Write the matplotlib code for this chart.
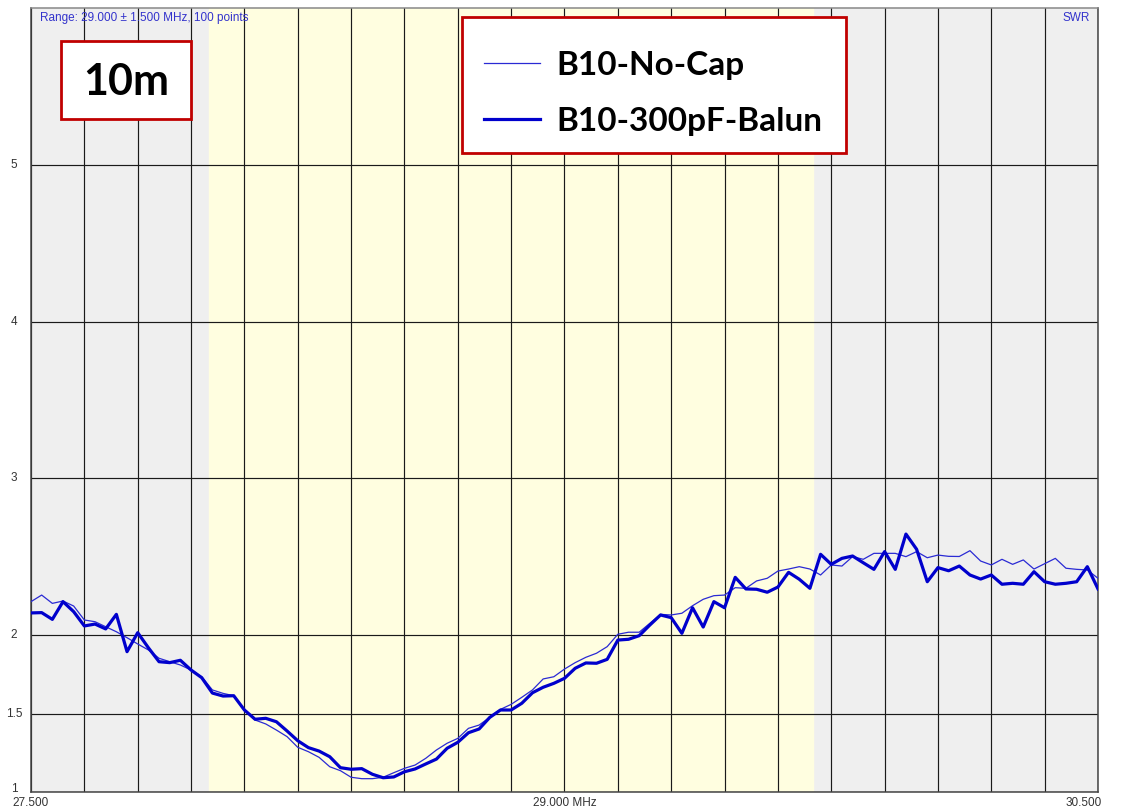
import matplotlib
matplotlib.use("Agg")
import matplotlib.pyplot as plt
from matplotlib.patches import Rectangle
import numpy as np

# sweep: 29.000 +/- 1.500 MHz, 100 steps
f_start, f_stop, n_points = 27.5, 30.5, 101
freq = np.linspace(f_start, f_stop, n_points)

swr_no_cap = [
    2.214, 2.256, 2.203, 2.218, 2.186, 2.097, 2.086, 2.054, 2.022, 1.984,
    1.944, 1.906, 1.853, 1.831, 1.810, 1.778, 1.735, 1.651, 1.629, 1.614,
    1.523, 1.459, 1.434, 1.395, 1.353, 1.285, 1.257, 1.221, 1.161, 1.136,
    1.094, 1.085, 1.085, 1.094, 1.123, 1.151, 1.172, 1.215, 1.268, 1.311,
    1.342, 1.406, 1.427, 1.476, 1.527, 1.559, 1.604, 1.651, 1.721, 1.735,
    1.784, 1.825, 1.859, 1.885, 1.927, 2.006, 2.019, 2.019, 2.076, 2.133,
    2.129, 2.140, 2.188, 2.229, 2.252, 2.256, 2.303, 2.299, 2.346, 2.363,
    2.409, 2.422, 2.437, 2.422, 2.384, 2.448, 2.441, 2.501, 2.484, 2.522,
    2.522, 2.522, 2.501, 2.533, 2.494, 2.511, 2.503, 2.502, 2.539, 2.473,
    2.448, 2.484, 2.452, 2.480, 2.422, 2.456, 2.490, 2.427, 2.420, 2.416,
    2.363,
]

swr_300pf = [
    2.142, 2.144, 2.101, 2.214, 2.150, 2.059, 2.071, 2.040, 2.133, 1.895,
    2.016, 1.920, 1.831, 1.825, 1.840, 1.778, 1.729, 1.631, 1.612, 1.614,
    1.523, 1.464, 1.470, 1.448, 1.389, 1.327, 1.283, 1.261, 1.225, 1.155,
    1.145, 1.149, 1.113, 1.091, 1.096, 1.129, 1.147, 1.179, 1.210, 1.279,
    1.317, 1.378, 1.402, 1.476, 1.523, 1.523, 1.566, 1.633, 1.668, 1.693,
    1.725, 1.789, 1.823, 1.821, 1.846, 1.969, 1.974, 1.997, 2.065, 2.129,
    2.112, 2.012, 2.175, 2.052, 2.214, 2.175, 2.369, 2.295, 2.293, 2.274,
    2.307, 2.401, 2.357, 2.299, 2.516, 2.452, 2.490, 2.505, 2.462, 2.420,
    2.533, 2.420, 2.645, 2.548, 2.341, 2.431, 2.411, 2.441, 2.384, 2.358,
    2.384, 2.325, 2.331, 2.325, 2.405, 2.341, 2.325, 2.331, 2.341, 2.437,
    2.295,
]

band_lo, band_hi = 28.0, 29.7
y_ticks = [1, 1.5, 2, 3, 4, 5]
y_labels = ["1", "1.5", "2", "3", "4", "5"]

W, H = 1124, 811
fig = plt.figure(figsize=(W / 100, H / 100), dpi=100)
ax = fig.add_axes([31/W, 19/H, 1067/W, 784/H])
ax.set_facecolor("#efefef")
ax.axvspan(band_lo, band_hi, color="#fffee0", zorder=0)

ax.set_xlim(f_start, f_stop)
ax.set_ylim(1, 6)

ax.set_xticks(np.arange(f_start, f_stop + 0.01, 0.15), minor=True)
ax.set_xticks([])
ax.set_yticks(y_ticks)
ax.set_yticklabels([])
ax.tick_params(axis="y", length=0)
ax.tick_params(axis="x", which="minor", length=0)
ax.grid(True, axis="x", which="minor", color="#1a1a1a", lw=0.85)
ax.grid(True, axis="y", which="major", color="#1a1a1a", lw=0.85)
ax.set_axisbelow(True)
for s in ax.spines.values():
    s.set_color("#444444")
    s.set_linewidth(1.1)
ax.spines["top"].set_color("#888888")

ax.plot(freq, swr_no_cap, color="#2a2ad4", lw=0.9, label="B10-No-Cap", zorder=3)
ax.plot(freq, swr_300pf, color="#0000cc", lw=2.3, label="B10-300pF-Balun", zorder=4)

# axis labels the way the analyser prints them
tkw = dict(fontsize=8.5, color="#333333", family="Liberation Sans", va="center")
for v, lab in zip(y_ticks, y_labels):
    yy = v + 0.02 if v == 1 else v
    ax.text(-17/1067, yy, lab, transform=ax.get_yaxis_transform(), ha="center", **tkw)
ax.text(f_start, -0.014, "27.500", transform=ax.get_xaxis_transform(), ha="center", **tkw)
ax.text(29.0, -0.014, "29.000 MHz", transform=ax.get_xaxis_transform(), ha="center", **tkw)
ax.text(f_stop + 0.01, -0.014, "30.500", transform=ax.get_xaxis_transform(), ha="right", **tkw)
ax.text(0.0085, 0.987, "Range: 29.000 \u00b1 1.500 MHz, 100 points", transform=ax.transAxes,
        fontsize=8.5, color="#3333cc", family="Liberation Sans", va="center")
ax.text(0.992, 0.987, "SWR", transform=ax.transAxes, ha="right",
        fontsize=8.5, color="#3333cc", family="Liberation Sans", va="center")

# "10m" label box
fig.patches.append(Rectangle((61/W, 1 - 119/H), 130/W, 78/H, transform=fig.transFigure,
                             fc="white", ec="#c00000", lw=2, zorder=5))
fig.text(126/W, 1 - 82/H, "10m", ha="center", va="center", fontsize=31,
         fontweight="bold", family="Lato", color="black", zorder=6)

# legend box
fig.patches.append(Rectangle((462/W, 1 - 153/H), 384/W, 136/H, transform=fig.transFigure,
                             fc="white", ec="#c00000", lw=2, zorder=5))
leg = fig.legend(loc="upper left", bbox_to_anchor=(484/W, 1 - 51/H),
                 prop={"family": "Lato", "weight": "bold", "size": 24},
                 frameon=False, handlelength=1.68, handletextpad=0.48,
                 labelspacing=0.8, borderpad=0, borderaxespad=0)
leg.set_zorder(7)

fig.savefig("out.png", dpi=100)
